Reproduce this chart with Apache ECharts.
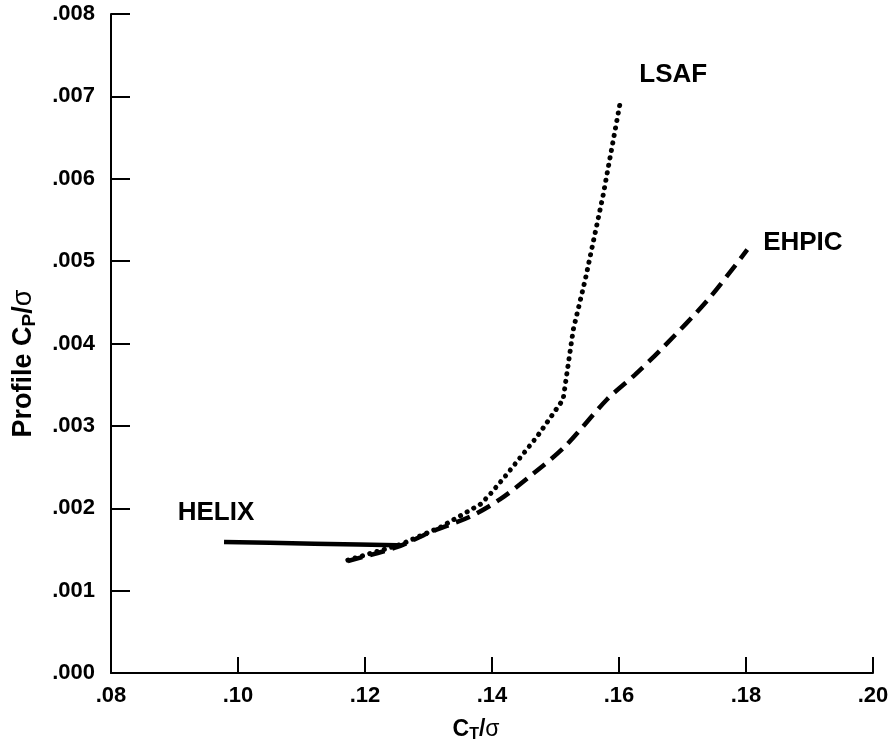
<!DOCTYPE html>
<html>
<head>
<meta charset="utf-8">
<script src="https://cdn.jsdelivr.net/npm/echarts@6/dist/echarts.min.js"></script>
<style>
html,body{margin:0;padding:0;background:#fff;}
#chart{width:896px;height:748px;}
</style>
</head>
<body>
<div id="chart"></div>
<script>
// Data (x = CT/sigma, y = profile CP/sigma)
const helix = [[0.0978, 0.00159], [0.105, 0.00158], [0.112, 0.00157], [0.119, 0.00156], [0.1251, 0.00155]];
const ehpic = [[0.1173, 0.00136], [0.1251, 0.00153], [0.1303, 0.00171], [0.1366, 0.00190], [0.1413, 0.00211],
               [0.1465, 0.00242], [0.1515, 0.00275], [0.1581, 0.00332], [0.1625, 0.00362], [0.1669, 0.00395],
               [0.1740, 0.00453], [0.1802, 0.00514]];
const lsaf = [[0.1173, 0.00137], [0.1256, 0.00156], [0.1319, 0.00177], [0.1382, 0.00205], [0.1397, 0.00217],
              [0.1421, 0.00239], [0.1471, 0.00287], [0.1512, 0.00332], [0.1528, 0.00417], [0.1547, 0.00478],
              [0.1575, 0.00580], [0.1602, 0.00693]];
const curveLabels = [
  {name: 'HELIX', value: [0.0905, 0.00195]},
  {name: 'LSAF',  value: [0.1632, 0.00726]},
  {name: 'EHPIC', value: [0.1827, 0.00522]}
];
const xTicks = {min: 0.08, max: 0.20, interval: 0.02};
const yTicks = {min: 0.000, max: 0.008, interval: 0.001};

const FONT = '"Liberation Sans", Arial, Helvetica, sans-serif';
const chart = echarts.init(document.getElementById('chart'), null, {renderer: 'canvas'});
chart.setOption({
  backgroundColor: '#fff',
  animation: false,
  grid: {left: 111, right: 23, top: 14, bottom: 74, containLabel: false},
  xAxis: {
    type: 'value', min: xTicks.min, max: xTicks.max, interval: xTicks.interval,
    axisLine: {show: true, lineStyle: {color: '#000', width: 2}},
    axisTick: {show: true, inside: true, length: 16, lineStyle: {color: '#000', width: 2}},
    splitLine: {show: false},
    axisLabel: {
      color: '#000', fontFamily: FONT, fontWeight: 'bold', fontSize: 22, margin: 12,
      formatter: v => v.toFixed(2).replace(/^0/, '')
    },
    name: 'C{sub|T}/{sig|σ}', nameLocation: 'middle', nameGap: 44,
    nameTextStyle: {
      color: '#000', fontFamily: FONT, fontWeight: 'bold', fontSize: 23, padding: [0, 32, 0, 0],
      rich: {
        sub: {fontFamily: FONT, fontWeight: 'bold', fontSize: 16, color: '#000', padding: [10, 0, 0, 0]},
        sig: {fontFamily: FONT, fontWeight: 'normal', fontSize: 23, color: '#000'}
      }
    }
  },
  yAxis: {
    type: 'value', min: yTicks.min, max: yTicks.max, interval: yTicks.interval,
    axisLine: {show: true, lineStyle: {color: '#000', width: 2}},
    axisTick: {show: true, inside: true, length: 19, lineStyle: {color: '#000', width: 2}},
    splitLine: {show: false},
    axisLabel: {
      color: '#000', fontFamily: FONT, fontWeight: 'bold', fontSize: 22, margin: 16,
      formatter: v => v.toFixed(3).replace(/^0/, '')
    },
    name: 'Profile C{sub|P}/{sig|σ}', nameLocation: 'middle', nameGap: 72,
    nameTextStyle: {
      color: '#000', fontFamily: FONT, fontWeight: 'bold', fontSize: 27, padding: [0, 40, 0, 0],
      rich: {
        sub: {fontFamily: FONT, fontWeight: 'bold', fontSize: 19, color: '#000', padding: [11, 0, 0, 0]},
        sig: {fontFamily: FONT, fontWeight: 'normal', fontSize: 27, color: '#000'}
      }
    }
  },
  series: [
    {type: 'line', name: 'HELIX', data: helix, symbol: 'none', smooth: false,
     lineStyle: {color: '#000', width: 4.5, type: 'solid'}},
    {type: 'line', name: 'EHPIC', data: ehpic, symbol: 'none', smooth: 0.3,
     lineStyle: {color: '#000', width: 4.5, type: [15, 8]}},
    {type: 'line', name: 'LSAF', data: lsaf, symbol: 'none', smooth: false,
     lineStyle: {color: '#000', width: 5, type: [0.1, 7.5], cap: 'round'}},
    {type: 'scatter', data: curveLabels, symbolSize: 0, silent: true,
     label: {show: true, position: 'right', distance: 0, formatter: p => p.name,
             color: '#000', opacity: 1, fontFamily: FONT, fontWeight: 'bold', fontSize: 26}}
  ]
});
</script>
</body>
</html>
